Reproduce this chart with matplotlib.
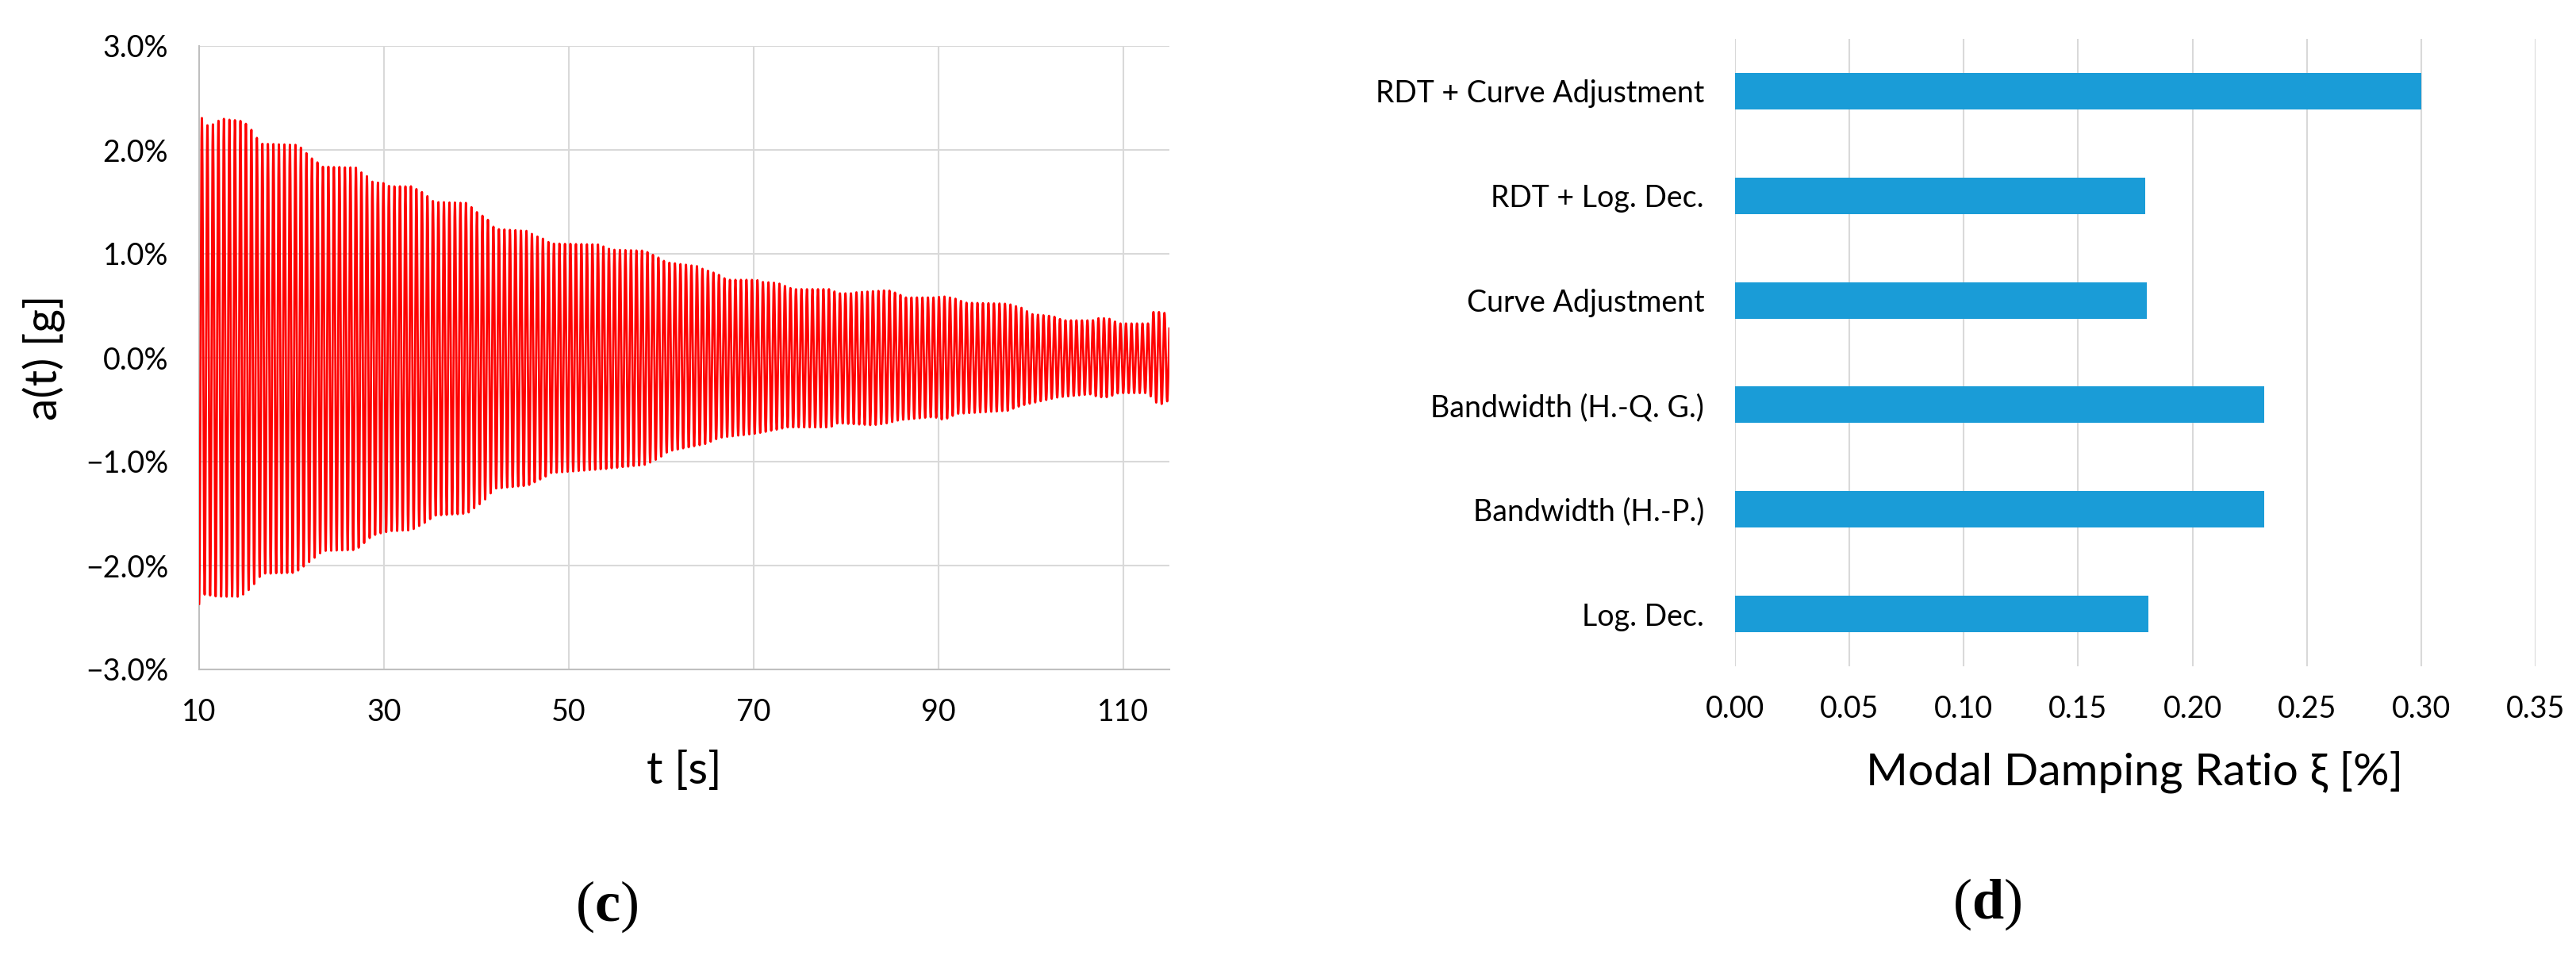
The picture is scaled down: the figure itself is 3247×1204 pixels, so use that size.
import numpy as np
import matplotlib
matplotlib.use("Agg")
import matplotlib.pyplot as plt

plt.rcParams['font.family'] = ['Lato', 'DejaVu Sans']
plt.rcParams['mathtext.fontset'] = 'custom'
plt.rcParams['mathtext.rm'] = 'Liberation Serif'
plt.rcParams['mathtext.bf'] = 'Liberation Serif:bold'

# (c) envelope of the free decay record [% g]
t_upper = [10.2, 10.8, 11.4, 12.0, 12.6, 14.5, 15.1, 15.7, 16.3, 16.8, 20.4, 21.1, 21.6,
           22.2, 22.8, 23.4, 27.0, 27.6, 28.3, 28.8, 30.1, 30.6, 33.0, 33.6, 34.2, 34.8,
           35.4, 39.0, 39.7, 40.2, 40.8, 41.5, 42.0, 45.6, 46.2, 47.4, 48.0, 53.3, 54.0,
           54.6, 58.3, 58.8, 59.4, 60.0, 60.5, 64.0, 64.6, 65.3, 66.0, 66.6, 67.1, 70.3,
           70.9, 72.6, 73.7, 74.3, 78.3, 79.1, 80.6, 81.1, 84.6, 85.8, 86.3, 89.5, 90.6,
           91.8, 92.9, 97.5, 99.0, 100.1, 102.4, 103.5, 106.7, 107.2, 108.4, 109.5, 112.7,
           113.2, 114.4, 115.0]
a_upper = [2.32, 2.24, 2.24, 2.28, 2.30, 2.28, 2.25, 2.19, 2.11, 2.06, 2.05, 2.02, 1.97,
           1.92, 1.88, 1.84, 1.83, 1.78, 1.74, 1.69, 1.68, 1.65, 1.65, 1.62, 1.59, 1.55,
           1.50, 1.49, 1.43, 1.39, 1.36, 1.31, 1.24, 1.22, 1.18, 1.14, 1.10, 1.09, 1.06,
           1.04, 1.03, 1.00, 0.98, 0.95, 0.92, 0.88, 0.85, 0.83, 0.81, 0.78, 0.75, 0.75,
           0.73, 0.72, 0.68, 0.66, 0.66, 0.62, 0.62, 0.63, 0.65, 0.61, 0.58, 0.58, 0.59,
           0.57, 0.53, 0.52, 0.48, 0.42, 0.40, 0.36, 0.36, 0.38, 0.38, 0.33, 0.33,
           0.44, 0.44, 0.36]
t_lower = [10.0, 10.6, 12.0, 14.5, 15.7, 16.8, 20.4, 21.6, 23.4, 27.0, 28.8, 30.6, 33.0,
           34.8, 35.4, 39.0, 40.8, 42.0, 45.6, 47.4, 48.0, 54.0, 58.3, 59.7, 60.8, 64.8,
           66.3, 70.3, 72.6, 73.7, 78.3, 79.1, 82.9, 84.5, 85.8, 89.5, 90.6, 92.0, 97.5,
           99.0, 100.5, 103.0, 106.7, 107.2, 108.4, 109.5, 112.7, 113.5, 114.4, 115.0]
a_lower = [-2.37, -2.28, -2.30, -2.30, -2.21, -2.08, -2.07, -1.99, -1.86, -1.85, -1.71,
           -1.67, -1.66, -1.57, -1.52, -1.50, -1.38, -1.26, -1.23, -1.15, -1.11, -1.07,
           -1.03, -0.97, -0.90, -0.83, -0.77, -0.73, -0.69, -0.67, -0.67, -0.63, -0.65,
           -0.63, -0.60, -0.57, -0.60, -0.54, -0.51, -0.46, -0.43, -0.38, -0.35, -0.38,
           -0.38, -0.34, -0.34, -0.43, -0.45, -0.40]
freq_hz = 1.68  # about 7 px per cycle in the picture
fs_hz = 100

x_ticks = [10, 30, 50, 70, 90, 110]
y_ticks = [-3, -2, -1, 0, 1, 2, 3]
y_ticklabels = ['\u22123.0%', '\u22122.0%', '\u22121.0%', '0.0%', '1.0%', '2.0%', '3.0%']

# (d) damping estimates
methods = ['Log. Dec.', 'Bandwidth (H.-P.)', 'Bandwidth (H.-Q. G.)',
           'Curve Adjustment', 'RDT + Log. Dec.', 'RDT + Curve Adjustment']
damping = [0.1807, 0.2312, 0.2312, 0.1802, 0.1792, 0.300]
d_ticks = [0.00, 0.05, 0.10, 0.15, 0.20, 0.25, 0.30, 0.35]

grid_col = '#d9d9d9'
axis_col = '#bfbfbf'
tick_fs = 27
label_fs = 41

fig = plt.figure(figsize=(32.48, 12.04), dpi=100)

# ---- (c) acceleration record
ax1 = fig.add_axes([251/3248, 1 - 844/1204, 1223/3248, 786/1204])
t = np.arange(10.0, 115.0 + 1e-9, 1.0 / fs_hz)
up = np.interp(t, t_upper, a_upper)
lo = np.interp(t, t_lower, a_lower)
acc = (up + lo) / 2 + (up - lo) / 2 * np.cos(2 * np.pi * freq_hz * (t - 10.3))
ax1.plot(t, acc, color='#ff0000', lw=2.0, zorder=3)
ax1.set_xlim(10, 115)
ax1.set_ylim(-3, 3)
ax1.set_xticks(x_ticks)
ax1.set_yticks(y_ticks)
ax1.set_yticklabels(y_ticklabels)
ax1.grid(True, color=grid_col, lw=1.5)
ax1.set_axisbelow(True)
for s in ['top', 'right']:
    ax1.spines[s].set_visible(False)
for s in ['left', 'bottom']:
    ax1.spines[s].set_color(axis_col)
    ax1.spines[s].set_linewidth(1.5)
ax1.tick_params(axis='both', length=0, labelsize=tick_fs)
ax1.tick_params(axis='x', pad=26)
ax1.tick_params(axis='y', pad=28)

fig.text(56/3248, 1 - 451/1204, 'a(t) [g]', rotation=90, ha='center', va='center',
         fontsize=label_fs)
fig.text(862/3248, 1 - 973/1204, 't [s]', ha='center', va='center', fontsize=label_fs)

# ---- (d) damping ratios
ax2 = fig.add_axes([2187/3248, 1 - 840/1204, 1009/3248, 791/1204])
ypos = np.arange(len(methods))
ax2.barh(ypos, damping, height=0.35, color='#1a9cd7', zorder=3)
ax2.set_xlim(0, 0.35)
ax2.set_ylim(-0.5, len(methods) - 0.5)
ax2.set_xticks(d_ticks)
ax2.set_xticklabels([f'{v:.2f}' for v in d_ticks])
ax2.set_yticks(ypos)
ax2.set_yticklabels(methods)
ax2.grid(True, axis='x', color=grid_col, lw=1.5)
ax2.set_axisbelow(True)
for s in ax2.spines.values():
    s.set_visible(False)
ax2.tick_params(axis='both', length=0, labelsize=tick_fs)
ax2.tick_params(axis='x', pad=26)
ax2.tick_params(axis='y', pad=28)

fig.text(2691/3248, 1 - 973/1204, 'Modal Damping Ratio \u03be [%]', ha='center',
         va='center', fontsize=label_fs)

# panel letters
fig.text(765/3248, 1 - 1143/1204, r'($\mathbf{c}$)', ha='center', va='center',
         fontsize=52, family='Liberation Serif')
fig.text(2505/3248, 1 - 1140/1204, r'($\mathbf{d}$)', ha='center', va='center',
         fontsize=52, family='Liberation Serif')

fig.savefig('out.png', dpi=100)
